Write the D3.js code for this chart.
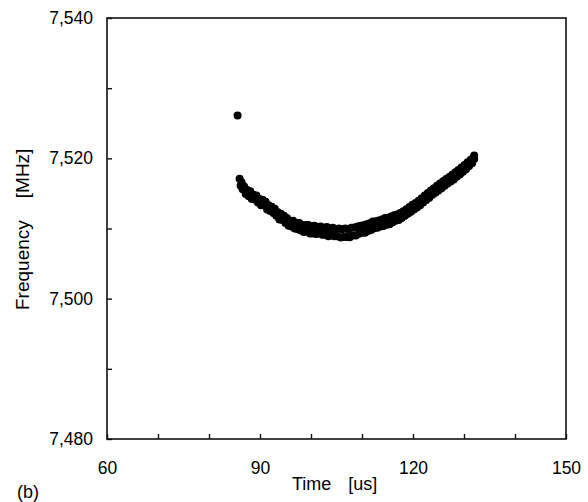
<!DOCTYPE html>
<html>
<head>
<meta charset="utf-8">
<script src="https://cdn.jsdelivr.net/npm/d3@7"></script>
<style>
  body { margin: 0; background: #fff; }
  svg { display: block; font-family: "Liberation Sans", Arial, sans-serif; }
</style>
</head>
<body>
<svg id="chart" width="588" height="502"></svg>
<script>
// --- data: [time us, frequency MHz]
const samples = [
  [86.0,7517.1],[86.2,7516.1],[86.4,7516.6],[86.6,7515.6],[86.9,7516.0],[87.2,7514.9],
  [87.5,7515.5],[87.8,7514.6],[88.1,7515.3],[88.4,7514.2],[88.7,7514.8],[89.0,7514.1],
  [89.3,7514.7],[89.6,7513.7],[89.9,7514.2],[90.2,7513.3],[90.5,7514.1],[90.8,7513.3],
  [91.1,7513.8],[91.4,7512.7],[91.7,7513.3],[92.0,7512.5],[92.3,7513.1],[92.6,7512.2],
  [92.9,7512.8],[93.2,7511.8],[93.5,7512.3],[93.8,7511.3],[94.1,7512.1],[94.4,7511.2],
  [94.7,7511.8],[95.0,7510.8],[95.3,7511.5],[95.6,7510.4],[95.9,7511.1],[96.2,7510.3],
  [96.5,7511.1],[96.8,7510.0],[97.1,7510.8],[97.4,7509.9],[97.7,7510.8],[98.0,7509.7],
  [98.3,7510.5],[98.6,7509.5],[98.9,7510.5],[99.2,7509.6],[99.5,7510.5],[99.8,7509.3],
  [100.1,7510.3],[100.4,7509.3],[100.7,7510.4],[101.0,7509.2],[101.3,7510.2],[101.6,7509.3],
  [101.9,7510.3],[102.2,7509.1],[102.5,7510.1],[102.8,7509.1],[103.1,7510.2],[103.4,7508.9],
  [103.7,7510.0],[104.0,7509.0],[104.3,7510.1],[104.6,7508.9],[104.9,7509.9],[105.2,7508.9],
  [105.5,7510.0],[105.8,7508.7],[106.1,7509.9],[106.4,7508.8],[106.7,7510.0],[107.0,7508.8],
  [107.3,7509.9],[107.6,7508.75],[107.9,7510.1],[108.2,7509.0],[108.5,7510.15],[108.8,7509.0],
  [109.1,7510.3],[109.4,7509.25],[109.7,7510.4],[110.0,7509.4],[110.3,7510.45],[110.6,7509.4],
  [110.9,7510.6],[111.2,7509.65],[111.5,7510.75],[111.8,7509.8],[112.1,7511.0],[112.4,7510.05],
  [112.7,7511.05],[113.0,7510.1],[113.3,7511.15],[113.6,7510.3],[113.9,7511.3],[114.2,7510.35],
  [114.5,7511.5],[114.8,7510.55],[115.1,7511.5],[115.4,7510.6],[115.7,7511.7],[116.0,7510.9],
  [116.3,7511.9],[116.6,7511.1],[116.9,7512.0],[117.2,7511.2],[117.5,7512.2],[117.8,7511.5],
  [118.1,7512.45],[118.4,7511.8],[118.7,7512.75],[119.0,7512.1],[119.3,7513.05],[119.6,7512.4],
  [119.9,7513.4],[120.2,7512.7],[120.5,7513.65],[120.8,7513.0],[121.1,7513.95],[121.4,7513.3],
  [121.7,7514.3],[122.0,7513.7],[122.3,7514.7],[122.6,7514.05],[122.9,7515.05],[123.2,7514.4],
  [123.5,7515.4],[123.8,7514.8],[124.1,7515.75],[124.4,7515.1],[124.7,7516.1],[125.0,7515.4],
  [125.3,7516.4],[125.6,7515.75],[125.9,7516.75],[126.2,7516.1],[126.5,7517.05],[126.8,7516.4],
  [127.1,7517.35],[127.4,7516.7],[127.7,7517.65],[128.0,7517.0],[128.3,7518.0],[128.6,7517.4],
  [128.9,7518.35],[129.2,7517.7],[129.5,7518.7],[129.8,7518.1],[130.1,7519.05],[130.4,7518.45],
  [130.7,7519.45],[131.0,7518.9],[131.3,7519.8],[131.6,7519.3],[131.8,7520.1],[132.0,7520.4],
  [132.0,7519.9]
];
const outliers = [[85.6, 7526.1]];

const xLabelTicks = [60, 90, 120, 150];
const xMinorTicks = [70, 80, 100, 110, 130, 140];
const yLabelTicks = [7480, 7500, 7520, 7540];
const yMinorTicks = [7490, 7510, 7530];

const W = 588, H = 502;
const margin = { top: 18, right: 22, bottom: 63, left: 107 };
const iw = W - margin.left - margin.right;
const ih = H - margin.top - margin.bottom;

const svg = d3.select("#chart");
const g = svg.append("g").attr("transform", `translate(${margin.left},${margin.top})`);

const x = d3.scaleLinear().domain([60, 150]).range([0, iw]);
const y = d3.scaleLinear().domain([7480, 7540]).range([ih, 0]);

const fmtY = d3.format(",");

// --- axes (ticks point inward)
const xAxis = g.append("g").attr("transform", `translate(0,${ih})`)
  .call(d3.axisBottom(x).tickValues(xLabelTicks.concat(xMinorTicks))
    .tickSizeInner(-5).tickSizeOuter(0).tickPadding(23)
    .tickFormat(d => xLabelTicks.includes(d) ? d : ""));
const yAxis = g.append("g")
  .call(d3.axisLeft(y).tickValues(yLabelTicks.concat(yMinorTicks))
    .tickSizeInner(-5).tickSizeOuter(0).tickPadding(14)
    .tickFormat(d => yLabelTicks.includes(d) ? fmtY(d) : ""));
for (const a of [xAxis, yAxis]) {
  a.select(".domain").remove();
  a.selectAll(".tick line").attr("stroke", "#111").attr("stroke-width", 1.4);
  a.selectAll(".tick text").attr("fill", "#000").attr("font-size", 17.5)
    .attr("font-family", "'Liberation Sans', Arial, sans-serif");
}

// frame
g.append("rect").attr("x", 0).attr("y", 0).attr("width", iw).attr("height", ih)
  .attr("fill", "none").attr("stroke", "#111").attr("stroke-width", 1.6);

// --- points
g.append("g").selectAll("circle")
  .data(samples.concat(outliers)).join("circle")
  .attr("cx", d => x(d[0]))
  .attr("cy", d => y(d[1]))
  .attr("r", 4)
  .attr("fill", "#000");

// --- labels
const xt = svg.append("text")
  .attr("x", 292).attr("y", 490)
  .attr("font-size", 18);
xt.append("tspan").text("Time");
xt.append("tspan").attr("dx", 17).text("[us]");

const yt = svg.append("text")
  .attr("transform", "translate(29,310) rotate(-90)")
  .attr("font-size", 19);
yt.append("tspan").text("Frequency");
yt.append("tspan").attr("dx", 22).text("[MHz]");

svg.append("text")
  .attr("x", 17).attr("y", 498)
  .attr("font-size", 18)
  .text("(b)");
</script>
</body>
</html>
